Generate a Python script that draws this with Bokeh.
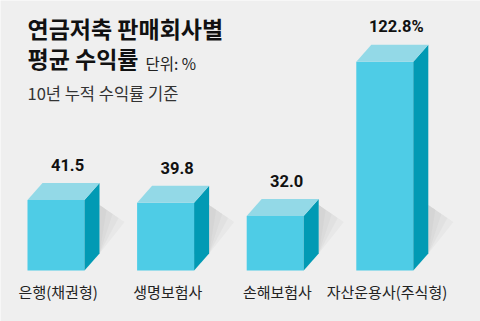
from bokeh.plotting import figure
from bokeh.models import Label, ColumnDataSource
from bokeh.core.properties import value
from bokeh.embed import file_html
from bokeh.resources import INLINE

categories = ["은행(채권형)", "생명보험사", "손해보험사", "자산운용사(주식형)"]
returns = [41.5, 39.8, 32.0, 122.8]
value_labels = ["41.5", "39.8", "32.0", "122.8%"]

W, H = 480, 321
PX_X = 109.6          # pixels per category step
PX_Y = 1.70           # pixels per % point
X0 = 55.5             # pixel of first bar centre
BASE = 51             # pixel of zero line from bottom

p = figure(width=W, height=H,
           x_range=(-X0 / PX_X, (W - X0) / PX_X),
           y_range=(-BASE / PX_Y, (H - BASE) / PX_Y),
           x_axis_type=None, y_axis_type=None,
           output_backend="svg", toolbar_location=None, min_border=0)
p.grid.visible = False
p.outline_line_color = None
p.background_fill_color = "#efefef"
p.border_fill_color = "#efefef"

xs = list(range(len(categories)))
hw = 28.5 / PX_X
dx = 15 / PX_X
dy = 17 / PX_Y

# soft wedge shadows beside each bar (same size for every bar)
for w_px in [25, 19, 13, 7]:
    sx, sy = [], []
    for x in xs:
        R = x + hw + dx
        sx.append([R, R + w_px / PX_X, R])
        sy.append([38.5, 38.5 - (w_px * 0.68) / PX_Y, dy])
    p.patches(sx, sy, fill_color="#8c8c8c", fill_alpha=0.07, line_color=None)

# front faces
p.quad(left=[x - hw for x in xs], right=[x + hw for x in xs],
       bottom=[0] * len(xs), top=returns,
       fill_color="#4ecce6", line_color=None)

# side faces
side_x = [[x + hw, x + hw + dx, x + hw + dx, x + hw] for x in xs]
side_y = [[0, dy, v + dy, v] for v in returns]
p.patches(side_x, side_y, fill_color="#019ab4", line_color=None)

# top faces
top_x = [[x - hw, x + hw, x + hw + dx, x - hw + dx] for x in xs]
top_y = [[v, v, v + dy, v + dy] for v in returns]
p.patches(top_x, top_y, fill_color="#93d9e7", line_color=None)

# value labels
src_v = ColumnDataSource(dict(x=[x + 0.105 for x in xs],
                              y=[v + dy + 10.5 for v in returns],
                              t=value_labels))
p.text(x="x", y="y", text="t", source=src_v,
       text_font=value("Roboto"),
       text_font_style="bold", text_font_size="16.5px", text_color="#111111",
       text_align="center", text_baseline="alphabetic")

# category labels
src_c = ColumnDataSource(dict(x=[x + 0.02 for x in xs],
                              y=[-12.6] * len(xs), t=categories))
p.text(x="x", y="y", text="t", source=src_c,
       text_font=value("Noto Sans CJK KR"), text_font_size="15px",
       text_color="#222222", text_align="center", text_baseline="alphabetic")

# titles
p.add_layout(Label(x=27, y=H - 27.5, x_units="screen", y_units="screen",
                   text="연금저축 판매회사별", text_font="Noto Sans CJK KR",
                   text_font_style="bold", text_font_size="23px",
                   text_color="#111111", text_baseline="middle"))
p.add_layout(Label(x=27, y=H - 57.5, x_units="screen", y_units="screen",
                   text="평균 수익률", text_font="Noto Sans CJK KR",
                   text_font_style="bold", text_font_size="23px",
                   text_color="#111111", text_baseline="middle"))
p.add_layout(Label(x=145, y=H - 62, x_units="screen", y_units="screen",
                   text="단위: %", text_font="Noto Sans CJK KR",
                   text_font_size="15.5px", text_color="#222222",
                   text_baseline="middle"))
p.add_layout(Label(x=27, y=H - 92, x_units="screen", y_units="screen",
                   text="10년 누적 수익률 기준", text_font="Noto Sans CJK KR",
                   text_font_size="16.5px", text_color="#333333",
                   text_baseline="middle"))

open("out.html", "w").write(file_html(p, INLINE))
